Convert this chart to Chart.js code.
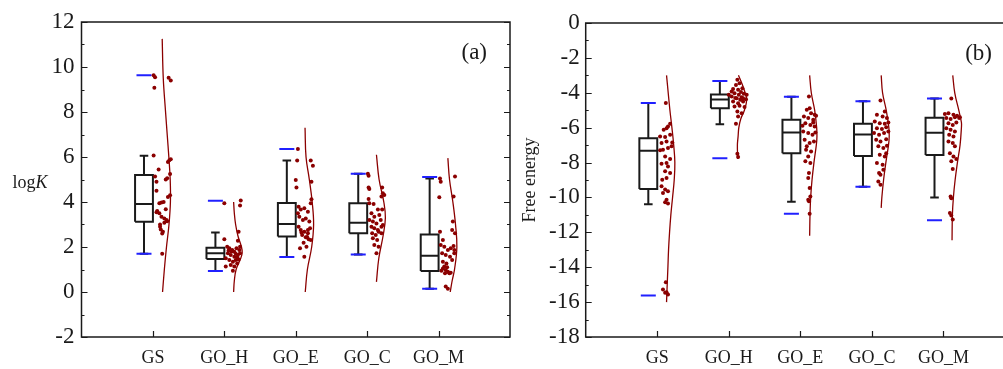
<!DOCTYPE html>
<html>
<head>
<meta charset="utf-8">
<script src="https://cdn.jsdelivr.net/npm/chart.js@4.4.1/dist/chart.umd.min.js"></script>
<style>
  html, body { margin: 0; padding: 0; background: #fff; overflow: hidden; width: 1003px; height: 369px; }
  canvas { position: absolute; top: 0; }
  #chartA { left: 0; }
  #chartB { left: 515px; }
</style>
</head>
<body>
<canvas id="chartA" width="520" height="369"></canvas>
<canvas id="chartB" width="510" height="369"></canvas>
<script>
var categories = ['GS', 'GO_H', 'GO_E', 'GO_C', 'GO_M'];

// (a) logK : box statistics
var yTicksA = [-2, 0, 2, 4, 6, 8, 10, 12];
var q1A = [3.12, 1.47, 2.47, 2.61, 0.93];
var medA = [3.91, 1.72, 3.02, 3.08, 1.61];
var q3A = [5.20, 1.97, 3.96, 3.94, 2.56];
var whiskLoA = [1.70, 0.93, 1.56, 1.67, 0.15];
var whiskHiA = [6.06, 2.65, 5.84, 5.26, 5.05];
var minA = [1.70, 0.93, 1.56, 1.67, 0.15];
var maxA = [9.63, 4.06, 6.36, 5.26, 5.11];

// (b) free energy : box statistics
var yTicksB = [-18, -16, -14, -12, -10, -8, -6, -4, -2, 0];
var q1B = [-9.52, -4.88, -7.46, -7.63, -7.57];
var medB = [-7.32, -4.39, -6.27, -6.39, -6.29];
var q3B = [-6.60, -4.10, -5.55, -5.78, -5.43];
var whiskLoB = [-10.39, -5.80, -10.24, -9.38, -10.01];
var whiskHiB = [-4.58, -3.32, -4.23, -4.48, -4.33];
var minB = [-15.62, -7.76, -10.93, -9.38, -11.31];
var maxB = [-4.58, -3.32, -4.23, -4.48, -4.33];

// scatter points [offset from category, value]
var logK_GS = [[0.01,9.63],[0.03,9.55],[0.02,9.08],[0.22,9.52],[0.25,9.40],[0.01,6.07],[0.23,5.86],[0.21,5.78],[0.25,5.90],[0.08,5.45],[0.24,5.24],[0.03,5.13],[0.05,4.90],[0.18,5.00],[0.20,5.06],[0.05,4.50],[0.24,4.30],[0.21,4.22],[0.15,4.00],[0.12,3.98],[0.09,3.94],[0.18,3.68],[0.06,3.60],[0.09,3.50],[0.05,3.55],[0.12,3.35],[0.16,3.27],[0.19,3.20],[0.16,3.08],[0.10,3.00],[0.11,2.78],[0.13,2.60],[0.14,2.68],[0.10,2.90],[0.13,1.70],[0.20,3.15]];
var logK_GO_H = [[0.00,3.94],[0.23,4.07],[0.22,3.84],[0.20,2.68],[0.00,2.34],[0.19,2.28],[0.04,2.01],[0.07,1.94],[0.11,1.87],[0.14,1.79],[0.17,1.94],[0.21,1.87],[0.05,1.72],[0.09,1.64],[0.14,1.57],[0.19,1.64],[0.22,1.72],[0.02,1.50],[0.07,1.42],[0.12,1.35],[0.16,1.42],[0.20,1.45],[0.09,1.20],[0.14,1.13],[0.18,1.27],[0.12,0.95],[0.02,1.13],[0.22,2.01],[0.10,1.80],[0.16,1.70],[0.06,1.85],[0.18,1.55]];
var logK_GO_E = [[0.03,6.36],[0.02,5.84],[0.21,5.85],[0.24,5.61],[0.00,4.98],[0.01,4.65],[0.22,4.90],[0.22,4.12],[0.21,3.94],[0.04,3.79],[0.07,3.67],[0.03,3.50],[0.12,3.72],[0.17,3.57],[0.05,3.35],[0.10,3.20],[0.14,3.27],[0.19,3.13],[0.04,2.90],[0.07,2.76],[0.12,2.68],[0.17,2.61],[0.20,2.83],[0.09,2.53],[0.14,2.43],[0.18,2.34],[0.11,2.19],[0.15,2.01],[0.06,1.94],[0.12,1.57],[0.21,2.31],[0.17,2.76],[0.08,2.65],[0.16,2.45]];
var logK_GO_C = [[0.01,5.26],[0.02,5.17],[0.02,4.64],[0.03,4.58],[0.21,4.65],[0.22,4.39],[0.24,4.31],[0.20,4.24],[0.02,4.13],[0.03,3.94],[0.09,3.91],[0.15,3.67],[0.21,3.67],[0.06,3.50],[0.10,3.35],[0.17,3.42],[0.03,3.20],[0.08,3.13],[0.13,3.05],[0.19,3.20],[0.06,2.90],[0.10,2.83],[0.15,2.76],[0.20,2.90],[0.07,2.61],[0.12,2.53],[0.16,2.68],[0.08,2.39],[0.14,2.31],[0.10,2.09],[0.20,2.61],[0.13,1.72],[0.22,2.98],[0.16,2.01]];
var logK_GO_M = [[0.02,5.05],[0.03,4.90],[0.23,5.13],[0.01,4.21],[0.21,4.24],[0.02,2.68],[0.20,3.13],[0.19,2.76],[0.23,2.61],[0.06,2.31],[0.03,2.09],[0.08,2.01],[0.13,1.87],[0.17,1.94],[0.21,2.04],[0.05,1.72],[0.10,1.64],[0.16,1.57],[0.22,1.72],[0.06,1.35],[0.08,1.13],[0.10,0.98],[0.13,0.90],[0.15,0.83],[0.17,0.86],[0.09,0.83],[0.06,1.05],[0.11,1.27],[0.19,1.42],[0.10,0.24],[0.13,0.15],[0.22,1.87],[0.04,0.95],[0.12,1.10]];

var energy_GS = [[0.12,-4.58],[0.15,-5.93],[0.18,-5.78],[0.13,-6.03],[0.09,-6.12],[0.04,-6.50],[0.11,-6.54],[0.18,-6.41],[0.21,-6.85],[0.06,-6.88],[0.13,-6.79],[0.08,-7.27],[0.15,-7.17],[0.20,-7.07],[0.04,-7.30],[0.11,-7.65],[0.18,-7.80],[0.13,-8.03],[0.06,-8.07],[0.15,-8.22],[0.11,-8.50],[0.18,-8.60],[0.07,-8.98],[0.13,-8.89],[0.06,-9.36],[0.11,-9.55],[0.15,-9.65],[0.08,-9.74],[0.13,-10.13],[0.11,-10.28],[0.15,-10.35],[0.12,-14.86],[0.08,-15.27],[0.11,-15.46],[0.15,-15.56],[0.13,-15.43]];
var energy_GO_H = [[0.12,-3.26],[0.10,-3.55],[0.15,-3.45],[0.06,-3.79],[0.13,-3.83],[0.19,-3.74],[0.08,-4.02],[0.14,-4.12],[0.21,-4.06],[0.04,-4.21],[0.11,-4.31],[0.18,-4.25],[0.24,-4.37],[0.06,-4.50],[0.13,-4.60],[0.20,-4.50],[0.08,-4.79],[0.15,-4.75],[0.22,-4.82],[0.12,-5.07],[0.18,-5.17],[0.13,-5.36],[0.10,-5.78],[0.12,-7.49],[0.13,-7.68],[0.04,-3.93],[0.25,-4.12],[0.00,-4.12],[0.16,-4.40],[0.20,-4.31],[0.09,-4.30],[0.17,-3.95]];
var energy_GO_E = [[0.12,-4.21],[0.13,-4.88],[0.09,-4.98],[0.15,-5.17],[0.20,-5.26],[0.05,-5.36],[0.11,-5.45],[0.18,-5.55],[0.22,-5.32],[0.07,-5.74],[0.14,-5.84],[0.20,-5.93],[0.04,-6.22],[0.11,-6.31],[0.17,-6.41],[0.21,-6.27],[0.06,-6.69],[0.13,-6.88],[0.19,-6.79],[0.08,-7.27],[0.15,-7.36],[0.11,-7.65],[0.07,-7.93],[0.14,-8.03],[0.12,-8.60],[0.11,-8.89],[0.13,-9.46],[0.14,-9.94],[0.11,-10.13],[0.12,-10.22],[0.13,-10.93],[0.18,-5.70],[0.03,-5.89],[0.09,-7.07]];
var energy_GO_C = [[0.12,-4.44],[0.18,-5.07],[0.07,-5.26],[0.15,-5.36],[0.21,-5.45],[0.04,-5.64],[0.11,-5.74],[0.18,-5.78],[0.23,-5.70],[0.07,-6.03],[0.14,-6.08],[0.20,-5.97],[0.03,-6.31],[0.10,-6.41],[0.17,-6.31],[0.23,-6.22],[0.06,-6.69],[0.12,-6.79],[0.20,-6.66],[0.09,-7.07],[0.16,-7.17],[0.21,-7.04],[0.11,-7.55],[0.18,-7.65],[0.07,-8.03],[0.15,-8.12],[0.10,-8.60],[0.12,-8.70],[0.09,-9.08],[0.12,-9.27],[0.16,-8.41],[0.20,-7.46]];
var energy_GO_M = [[0.11,-4.33],[0.02,-5.21],[0.07,-5.17],[0.14,-5.26],[0.19,-5.32],[0.04,-5.45],[0.10,-5.51],[0.16,-5.40],[0.22,-5.45],[0.07,-5.74],[0.13,-5.84],[0.18,-5.70],[0.04,-6.03],[0.10,-6.12],[0.16,-6.22],[0.08,-6.41],[0.14,-6.50],[0.07,-6.79],[0.13,-6.88],[0.16,-7.07],[0.09,-7.46],[0.14,-7.65],[0.18,-7.80],[0.11,-7.93],[0.13,-8.37],[0.10,-9.94],[0.11,-10.05],[0.09,-10.89],[0.11,-11.04],[0.13,-11.27],[0.23,-5.40]];

// half-violin curves [value, width]
var densA_GS = [[0,0.005],[1,0.03],[2,0.06],[3,0.095],[4,0.115],[5,0.112],[6,0.093],[7,0.07],[8,0.047],[9.5,0.015],[11.25,0]];
var densA_GO_H = [[0,0],[0.5,0.01],[1,0.035],[1.5,0.1],[1.75,0.12],[2,0.11],[2.5,0.06],[3,0.028],[3.5,0.01],[4,0]];
var densA_GO_E = [[0,0.003],[1,0.033],[2,0.093],[3,0.12],[4,0.1],[5,0.06],[6,0.014],[7.3,0]];
var densA_GO_C = [[0.45,0],[1.5,0.033],[2.5,0.093],[3.3,0.125],[4,0.103],[5,0.037],[6.1,0]];
var densA_GO_M = [[0,0.033],[0.5,0.06],[1,0.093],[2,0.126],[3,0.107],[4,0.07],[5,0.023],[5.95,0]];

var densB_GS = [[-3,0],[-4,0.023],[-5,0.047],[-6,0.075],[-7,0.1],[-8,0.116],[-9,0.107],[-10,0.084],[-11,0.06],[-12,0.042],[-13,0.028],[-14,0.019],[-15,0.009],[-16,0]];
var densB_GO_H = [[-3,0.005],[-3.5,0.056],[-4,0.098],[-4.4,0.12],[-5,0.088],[-5.5,0.037],[-6,0.01],[-6.5,0],[-7,-0.01],[-7.8,-0.005]];
var densB_GO_E = [[-3,0],[-4,0.023],[-5,0.07],[-6,0.098],[-6.5,0.102],[-7,0.093],[-8,0.06],[-9,0.033],[-10,0.014],[-11,0.005],[-12.2,0]];
var densB_GO_C = [[-3,0],[-4,0.019],[-5,0.07],[-6,0.107],[-6.5,0.112],[-7,0.102],[-8,0.065],[-9,0.033],[-10,0.009],[-10.6,0]];
var densB_GO_M = [[-3,0],[-4,0.028],[-5,0.084],[-5.7,0.121],[-6,0.121],[-7,0.102],[-8,0.065],[-9,0.033],[-10,0.009],[-11,-0.005],[-12.45,-0.01]];

var FONT = "'Liberation Serif', 'Times New Roman', serif";
var RED = '#8b0000';
var BLUE = '#2020ff';
var INK = '#1a1a1a';

function seg(points, color, width, order) {
  return {
    data: points, showLine: true, borderColor: color, borderWidth: width,
    pointRadius: 0, tension: 0, fill: false, order: order, borderJoinStyle: 'miter'
  };
}

// datasets for one panel
function buildDatasets(s, pts, dens) {
  var out = [];
  for (var i = 0; i < categories.length; i++) {
    var p = i + 1;
    var c = p - 0.125; // box centre
    var hw = 0.125, cap = 0.06, mark = 0.105;
    // half violin
    var curve = dens[i].map(function (d) { return { x: p + 0.13 + d[1], y: d[0] }; });
    var cd = seg(curve, RED, 1.3, 4);
    cd.tension = 0.4;
    out.push(cd);
    // box
    out.push(seg([{x: c - hw, y: s.q1[i]}, {x: c + hw, y: s.q1[i]}, {x: c + hw, y: s.q3[i]},
                  {x: c - hw, y: s.q3[i]}, {x: c - hw, y: s.q1[i]}], INK, 2, 3));
    out.push(seg([{x: c - hw, y: s.med[i]}, {x: c + hw, y: s.med[i]}], INK, 2, 3));
    out.push(seg([{x: c, y: s.q1[i]}, {x: c, y: s.lo[i]}], INK, 2, 3));
    out.push(seg([{x: c, y: s.q3[i]}, {x: c, y: s.hi[i]}], INK, 2, 3));
    out.push(seg([{x: c - cap, y: s.lo[i]}, {x: c + cap, y: s.lo[i]}], INK, 2, 3));
    out.push(seg([{x: c - cap, y: s.hi[i]}, {x: c + cap, y: s.hi[i]}], INK, 2, 3));
    // min / max marks
    out.push(seg([{x: c - mark, y: s.min[i]}, {x: c + mark, y: s.min[i]}], BLUE, 2, 2));
    out.push(seg([{x: c - mark, y: s.max[i]}, {x: c + mark, y: s.max[i]}], BLUE, 2, 2));
    // points
    out.push({
      data: pts[i].map(function (d) { return { x: p + d[0], y: d[1] }; }),
      pointRadius: 2, pointBackgroundColor: RED, pointBorderWidth: 0, order: 1
    });
  }
  return out;
}

// frame with inward ticks, panel tag, horizontal y label
var panelFrame = {
  id: 'panelFrame',
  afterDraw: function (chart, args, o) {
    var ctx = chart.ctx, a = chart.chartArea, x = chart.scales.x, y = chart.scales.y;
    ctx.save();
    ctx.strokeStyle = INK;
    ctx.lineWidth = 1.5;
    ctx.strokeRect(a.left, a.top, a.right - a.left, a.bottom - a.top);
    ctx.lineWidth = 1.2;
    ctx.beginPath();
    for (var v = y.min; v <= y.max; v += 1) {
      var py = Math.round(y.getPixelForValue(v)) + 0.5;
      var len = (v % 2 === 0) ? 6 : 3;
      ctx.moveTo(a.left, py); ctx.lineTo(a.left + len, py);
      ctx.moveTo(a.right, py); ctx.lineTo(a.right - len, py);
    }
    for (var k = 1; k <= categories.length; k++) {
      var px = Math.round(x.getPixelForValue(k)) + 0.5;
      ctx.moveTo(px, a.bottom); ctx.lineTo(px, a.bottom - 6);
    }
    ctx.stroke();

    ctx.fillStyle = INK;
    ctx.font = '23px ' + FONT;
    ctx.textAlign = 'right';
    ctx.textBaseline = 'alphabetic';
    ctx.fillText(o.tag, a.right - 23, a.top + 37);

    if (o.sideLabel) {
      ctx.textAlign = 'left';
      ctx.font = '18px ' + FONT;
      ctx.fillText('log', 12.5, 188);
      var w = ctx.measureText('log').width;
      ctx.font = 'italic 18px ' + FONT;
      ctx.fillText('K', 12.5 + w, 188);
    }
    ctx.restore();
  }
};

function makeChart(id, datasets, ticks, opt) {
  new Chart(document.getElementById(id), {
    type: 'scatter',
    data: { datasets: datasets },
    options: {
      responsive: false,
      animation: false,
      devicePixelRatio: 1,
      events: [],
      layout: { padding: { top: opt.top, right: opt.right, left: 0, bottom: 0 } },
      plugins: {
        legend: { display: false },
        tooltip: { enabled: false },
        panelFrame: { tag: opt.tag, sideLabel: opt.sideLabel }
      },
      scales: {
        x: {
          type: 'linear', min: 0, max: 6,
          grid: { display: false, drawTicks: false },
          border: { display: false },
          ticks: {
            stepSize: 1, autoSkip: false, maxRotation: 0, padding: 10, color: INK,
            font: { family: FONT, size: 18 },
            callback: function (v) { return categories[v - 1] || ''; }
          },
          afterFit: function (s) { s.height = 32; }
        },
        y: {
          min: ticks[0], max: ticks[ticks.length - 1],
          grid: { display: false, drawTicks: false },
          border: { display: false },
          ticks: {
            stepSize: ticks[1] - ticks[0], padding: opt.tickPad, color: INK,
            font: { family: FONT, size: 23 }
          },
          title: {
            display: !!opt.yTitle, text: opt.yTitle || '', color: INK,
            font: { family: FONT, size: 18 }, padding: { top: 4, bottom: 0 }
          },
          afterFit: function (s) { s.width = opt.yWidth; }
        }
      }
    },
    plugins: [panelFrame]
  });
}

makeChart('chartA',
  buildDatasets({ q1: q1A, med: medA, q3: q3A, lo: whiskLoA, hi: whiskHiA, min: minA, max: maxA },
    [logK_GS, logK_GO_H, logK_GO_E, logK_GO_C, logK_GO_M],
    [densA_GS, densA_GO_H, densA_GO_E, densA_GO_C, densA_GO_M]),
  yTicksA,
  { top: 22, right: 8, yWidth: 81.5, tickPad: 7, tag: '(a)', sideLabel: true });

makeChart('chartB',
  buildDatasets({ q1: q1B, med: medB, q3: q3B, lo: whiskLoB, hi: whiskHiB, min: minB, max: maxB },
    [energy_GS, energy_GO_H, energy_GO_E, energy_GO_C, energy_GO_M],
    [densB_GS, densB_GO_H, densB_GO_E, densB_GO_C, densB_GO_M]),
  yTicksB,
  { top: 23, right: 10, yWidth: 70.7, tickPad: 6, tag: '(b)', yTitle: 'Free energy' });
</script>
</body>
</html>
